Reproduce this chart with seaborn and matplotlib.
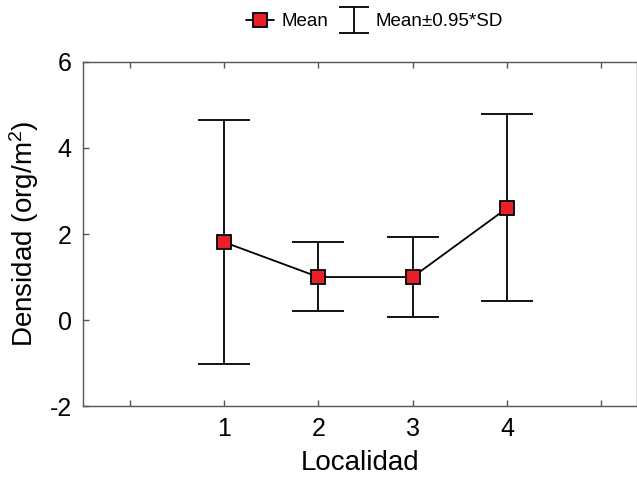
import matplotlib
matplotlib.use("Agg")
import matplotlib.pyplot as plt
from matplotlib.legend_handler import HandlerErrorbar
import seaborn as sns
import numpy as np
import pandas as pd

localidad = [1, 2, 3, 4]
mean = [1.81, 1.00, 1.00, 2.60]
upper = [4.64, 1.82, 1.94, 4.78]
lower = [-1.02, 0.20, 0.06, 0.44]
xticks = [0, 1, 2, 3, 4, 5]
xticklabels = ["", "1", "2", "3", "4", ""]
yticks = [-2, 0, 2, 4, 6]

sns.set_theme(style="white")
plt.rcParams['font.family'] = ['Liberation Sans', 'DejaVu Sans']
plt.rcParams['mathtext.default'] = 'regular'
plt.rcParams['axes.unicode_minus'] = False
plt.rcParams['text.color'] = 'black'
plt.rcParams['axes.labelcolor'] = 'black'
plt.rcParams['xtick.color'] = 'black'
plt.rcParams['ytick.color'] = 'black'

df = pd.DataFrame({"Localidad": localidad, "Mean": mean, "Upper": upper, "Lower": lower})

fig = plt.figure(figsize=(6.37, 4.84), dpi=100)
ax = fig.add_axes([0.130, 0.161, 0.870, 0.711])

sns.lineplot(data=df, x="Localidad", y="Mean", ax=ax, color="black", linewidth=1.3,
             marker="s", markersize=10, markerfacecolor="#e8202a", markeredgecolor="black",
             markeredgewidth=1.3, zorder=3, legend=False)
line_handle = ax.get_lines()[0]

yerr = np.array([df["Mean"] - df["Lower"], df["Upper"] - df["Mean"]])
ax.errorbar(df["Localidad"], df["Mean"], yerr=yerr, fmt="none", ecolor="black",
            elinewidth=1.3, capsize=18.5, capthick=1.3, zorder=2)

# legend proxy for the error bar symbol (smaller caps)
eb_proxy = ax.errorbar([np.nan], [np.nan], yerr=[[np.nan], [np.nan]], fmt="none",
                       ecolor="black", elinewidth=1.3, capsize=11, capthick=1.3)

ax.set_xlim(-0.5, 5.38)
ax.set_ylim(-2, 6)
ax.set_xticks(xticks)
ax.set_xticklabels(xticklabels)
ax.set_yticks(yticks)
ax.tick_params(axis="both", direction="in", length=4, width=1, color="#555555",
               labelcolor="black", labelsize=18, top=True, left=True, bottom=True, pad=8)
for s in ax.spines.values():
    s.set_color("#555555")
    s.set_linewidth(1.0)

ax.set_xlabel("Localidad", fontsize=20, labelpad=6)
ax.set_ylabel("Densidad (org/m$^2$)", fontsize=20, labelpad=6)

fig.legend([line_handle, eb_proxy], ["Mean", "Mean±0.95*SD"], loc="center",
           bbox_to_anchor=(0.588, 0.955), ncol=2, frameon=False, fontsize=13.5,
           handlelength=1.5, columnspacing=0.6, handletextpad=0.4,
           handler_map={type(eb_proxy): HandlerErrorbar(yerr_size=0.7)})

fig.savefig("out.png", dpi=100)
